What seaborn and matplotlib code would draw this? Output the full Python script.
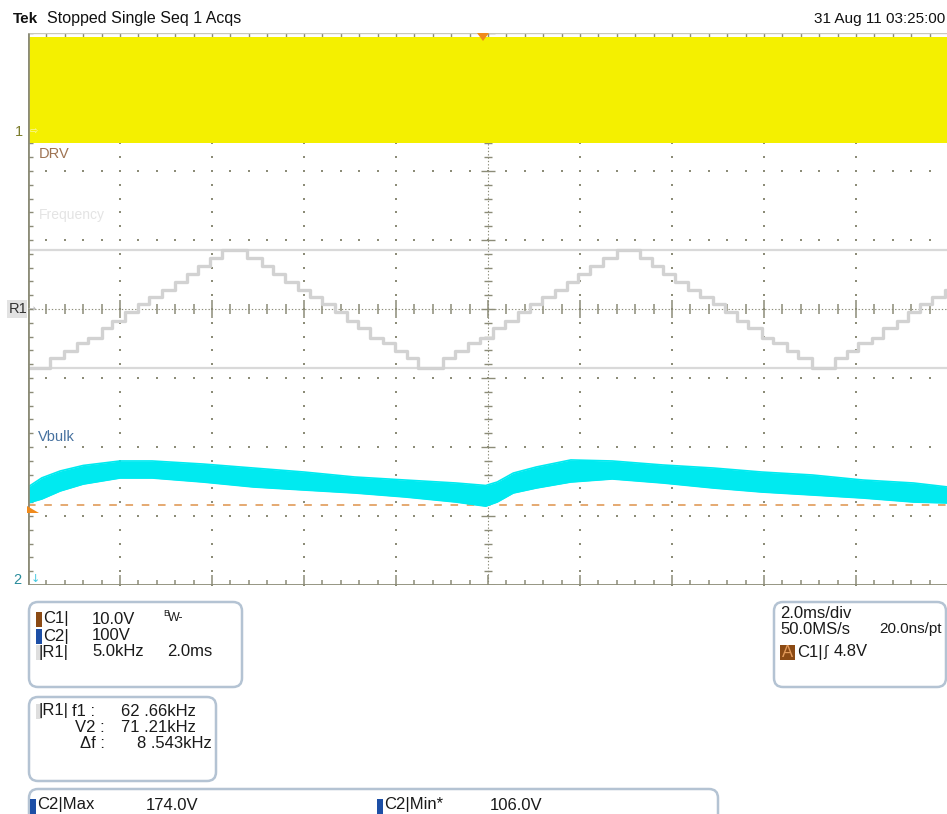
import numpy as np
import pandas as pd
import matplotlib
matplotlib.use("Agg")
import matplotlib.pyplot as plt
from matplotlib.patches import FancyBboxPatch, Polygon, Rectangle
import seaborn as sns

# ------------------------------------------------------------------ data
HEADER_BRAND = "Tek"
HEADER_STATUS = "Stopped Single Seq 1 Acqs"
HEADER_DATE = "31 Aug 11 03:25:00"

MS_PER_DIV = 2.0          # horizontal scale
CH1_V_PER_DIV = 10.0      # DRV
CH2_V_PER_DIV = 100.0     # Vbulk
R1_KHZ_PER_DIV = 5.0      # Frequency reference
R1_CENTER_KHZ = 66.9

# Channel 1 (DRV): high-frequency drive -> solid envelope
drv_time_ms = [-10.0, 10.0]
drv_high_v = [13.8, 13.8]
drv_low_v = [-1.6, -1.6]

# R1 (Frequency): staircase triangle, kHz
freq_time_ms = [-10.0, -9.52, -9.22, -8.93, -8.70, -8.39, -8.17, -7.89, -7.61, -7.37,
                -7.09, -6.80, -6.54, -6.30, -6.04, -5.78, -5.24, -4.91, -4.67, -4.41,
                -4.13, -3.87, -3.61, -3.33, -3.07, -2.83, -2.57, -2.28, -2.02, -1.76,
                -1.52, -0.98, -0.72, -0.43, -0.17, 0.11, 0.37, 0.65, 0.91, 1.17,
                1.46, 1.72, 1.96, 2.22, 2.50, 2.80, 3.30, 3.57, 3.80, 4.07,
                4.35, 4.61, 4.89, 5.15, 5.41, 5.65, 5.96, 6.20, 6.50, 6.74,
                7.04, 7.54, 7.80, 8.04, 8.35, 8.59, 8.89, 9.13, 9.39, 9.65,
                9.93, 10.0]
freq_khz = [62.66, 63.35, 63.86, 64.44, 64.83, 65.49, 66.03, 66.68, 67.23, 67.77,
            68.28, 68.86, 69.44, 70.02, 70.56, 71.21, 70.56, 70.02, 69.44, 68.86,
            68.28, 67.77, 67.23, 66.68, 66.03, 65.49, 64.83, 64.44, 63.86, 63.35,
            62.66, 63.35, 63.86, 64.44, 64.83, 65.49, 66.03, 66.68, 67.23, 67.77,
            68.28, 68.86, 69.44, 70.02, 70.56, 71.21, 70.56, 70.02, 69.44, 68.86,
            68.28, 67.77, 67.23, 66.68, 66.03, 65.49, 64.83, 64.44, 63.86, 63.35,
            62.66, 63.35, 63.86, 64.44, 64.83, 65.49, 66.03, 66.68, 67.23, 67.77,
            68.28, 68.28]
cursor_f1_khz = 62.66
cursor_v2_khz = 71.21

# Channel 2 (Vbulk): band envelope, volts
vbulk_time_ms = [-10.0, -9.7, -9.3, -8.8, -8.0, -7.3, -6.2, -5.1, -4.0, -2.9, -1.8, -0.7,
                 -0.05, 0.2, 0.55, 1.05, 1.8, 2.7, 3.8, 4.9, 5.95, 7.05, 8.15, 9.25, 10.0]
vbulk_upper_v = [134.8, 148.0, 158.0, 166.0, 172.5, 172.5, 168.1, 162.3, 156.5, 149.3, 144.9, 140.6,
                 137.0, 142.0, 155.0, 163.8, 174.0, 172.5, 166.7, 162.3, 156.5, 152.2, 144.9, 140.6, 134.8]
vbulk_lower_v = [111.6, 117.4, 129.0, 139.0, 147.8, 147.8, 142.0, 134.8, 130.4, 126.1, 120.3, 113.0,
                 107.0, 113.0, 126.1, 133.3, 142.0, 146.4, 140.6, 133.3, 127.5, 123.2, 118.8, 113.0, 111.6]
trigger_marker_v = 108.0   # dashed level shown on the Vbulk scale

# readouts
ch_rows = [("C1|", "10.0V"), ("C2|", "100V"), ("|R1|", "5.0kHz")]
cursor_names = ["f1 :", "V2 :", "\u0394f :"]
cursor_values = ["62 .66kHz", "71 .21kHz", "8 .543kHz"]
meas_names = ["C2|Max", "C2|Min*"]
meas_values = ["174.0V", "106.0V"]

# ------------------------------------------------------------------ layout
W, H = 947, 814
sns.set_style("white")
plt.rcParams["font.family"] = ["Liberation Sans", "DejaVu Sans"]

fig = plt.figure(figsize=(W / 100, H / 100), dpi=100)
PL, PR, PT, PB = 28, 948, 33, 585
ax = fig.add_axes([PL / W, 1 - PB / H, (PR - PL) / W, (PB - PT) / H])
ax.set_xlim(-5, 5)
ax.set_ylim(-4, 4)
ax.axis("off")

CH1_POS = (309 - 132) / 69.0
CH2_POS = (309 - 580) / 69.0

def tdiv(t):
    return np.asarray(t, float) / MS_PER_DIV

# ---------------- graticule
gc = "#8c8c78"
ys = np.round(np.arange(-4, 4.0001, 0.2), 6)
xs = np.round(np.arange(-5, 5.0001, 0.2), 6)
for k in [-4, -3, -2, -1, 1, 2, 3, 4]:
    ax.plot(np.full_like(ys, k), ys, ls="none", marker="s", ms=1.5, mew=0, color=gc, zorder=1)
for k in [-3, -2, -1, 1, 2, 3]:
    ax.plot(xs, np.full_like(xs, k), ls="none", marker="s", ms=1.5, mew=0, color=gc, zorder=1)
# center cross
ax.plot([-5, 5], [0, 0], color=gc, lw=0.8, ls=(0, (1.2, 1.8)), zorder=1)
ax.plot([0, 0], [-4, 4], color=gc, lw=0.8, ls=(0, (1.2, 1.8)), zorder=1)
minor_x = xs[np.abs(xs - np.round(xs)) > 1e-6]
major_x = xs[np.abs(xs - np.round(xs)) <= 1e-6]
minor_y = ys[np.abs(ys - np.round(ys)) > 1e-6]
major_y = ys[np.abs(ys - np.round(ys)) <= 1e-6]
ax.vlines(minor_x, -5 / 69, 5 / 69, color=gc, lw=1.1, zorder=1)
ax.vlines(major_x, -9 / 69, 9 / 69, color=gc, lw=1.1, zorder=1)
ax.hlines(minor_y, -4 / 92, 4 / 92, color=gc, lw=1.0, zorder=1)
ax.hlines(major_y, -7 / 92, 7 / 92, color=gc, lw=1.0, zorder=1)
# edge ticks
ax.vlines(minor_x, -4, -4 + 5 / 69, color=gc, lw=1.1, zorder=1)
ax.vlines(major_x, -4, -4 + 10 / 69, color=gc, lw=1.1, zorder=1)
ax.vlines(xs, 4 - 5 / 69, 4, color=gc, lw=1.0, zorder=1)
ax.hlines(ys, -5, -5 + 5 / 92, color=gc, lw=1.0, zorder=1)
ax.plot([-5, 5], [4, 4], color="#c8c8bc", lw=1.0, zorder=1)
ax.plot([-5, -5], [-4, 4], color=gc, lw=2.0, zorder=6, solid_capstyle="butt")
ax.plot([-5, 5], [-4, -4], color=gc, lw=2.0, zorder=6, solid_capstyle="butt")

# ---------------- channel 1 (DRV)
ax.fill_between(tdiv(drv_time_ms),
                np.asarray(drv_low_v) / CH1_V_PER_DIV + CH1_POS,
                np.asarray(drv_high_v) / CH1_V_PER_DIV + CH1_POS,
                color="#f4f000", lw=0, zorder=3)

# ---------------- R1 frequency
for c in (cursor_f1_khz, cursor_v2_khz):
    ax.axhline((c - R1_CENTER_KHZ) / R1_KHZ_PER_DIV, color="#d9d9d9", lw=1.6, zorder=2)
freq_df = pd.DataFrame({"x": tdiv(freq_time_ms),
                        "y": (np.asarray(freq_khz) - R1_CENTER_KHZ) / R1_KHZ_PER_DIV})
sns.lineplot(data=freq_df, x="x", y="y", ax=ax, drawstyle="steps-post",
             color="#d2d2d2", linewidth=2.4, zorder=4, legend=False)
ax.set_xlim(-5, 5)
ax.set_ylim(-4, 4)
ax.axis("off")

# ---------------- channel 2 (Vbulk)
ax.plot([-5, 5], [trigger_marker_v / CH2_V_PER_DIV + CH2_POS] * 2, color="#e3a366",
        lw=1.3, ls=(0, (4.2, 4.8)), zorder=3)
vb_df = pd.DataFrame({"x": tdiv(vbulk_time_ms),
                      "lo": np.asarray(vbulk_lower_v) / CH2_V_PER_DIV + CH2_POS,
                      "hi": np.asarray(vbulk_upper_v) / CH2_V_PER_DIV + CH2_POS})
ax.fill_between(vb_df["x"], vb_df["lo"], vb_df["hi"], color="#00eaf0", lw=0, zorder=5)
sns.lineplot(data=vb_df, x="x", y="hi", ax=ax, color="#00eaf0", linewidth=1.2, zorder=5, legend=False)
sns.lineplot(data=vb_df, x="x", y="lo", ax=ax, color="#00eaf0", linewidth=1.2, zorder=5, legend=False)
ax.set_xlim(-5, 5)
ax.set_ylim(-4, 4)
ax.axis("off")

# ------------------------------------------------------------------ overlay (pixel coords)
ov = fig.add_axes([0, 0, 1, 1], zorder=10)
ov.set_xlim(0, W)
ov.set_ylim(H, 0)
ov.axis("off")

FS = 12

def txt(x, y, s, size=FS, color="#1a1a1a", **kw):
    kw.setdefault("va", "center")
    kw.setdefault("ha", "left")
    ov.text(x, y, s, fontsize=size, color=color, **kw)

# header
txt(13, 19, HEADER_BRAND, size=11, weight="bold", color="#111111")
txt(47, 19, HEADER_STATUS, size=11.5, color="#111111")
txt(945, 19, HEADER_DATE, size=11, color="#111111", ha="right")

# trigger markers
ov.add_patch(Polygon([[477, 33], [489, 33], [483, 41]], closed=True, color="#f08a1c", lw=0))
ov.add_patch(Polygon([[27, 506], [27, 513], [39, 513]], closed=True, color="#f08a1c", lw=0))

# channel markers
txt(15, 132, "1", size=10.5, color="#7c7c2c")
txt(30, 132, "\u21e8", size=7, color="#fbf8b0", family=["DejaVu Sans"])
ov.add_patch(Rectangle((7, 300), 20, 18, color="#e2e2e2", lw=0))
txt(9, 309, "R1", size=10.5, color="#333333")
txt(28, 309, "\u2192", size=7, color="#b8b8b8", family=["DejaVu Sans"])
txt(13, 580, "2", size=10.5, color="#2a8c9c")
txt(31, 579, "\u2193", size=8, color="#40c8e0", family=["DejaVu Sans"])

# trace labels
txt(39, 154, "DRV", size=10.5, color="#9e7352")
txt(39, 215, "Frequency", size=10, color="#e4e4e4")
txt(38, 437, "Vbulk", size=10.5, color="#46719f")

# readout boxes
box_ec = "#b4c3d3"
def rbox(x0, y0, x1, y1):
    ov.add_patch(FancyBboxPatch((x0, y0), x1 - x0, y1 - y0,
                                boxstyle="round,pad=0,rounding_size=9",
                                fc="white", ec=box_ec, lw=1.8))

rbox(29, 602, 242, 687)
rbox(29, 697, 216, 781)
rbox(29, 789, 718, 830)
rbox(774, 602, 946, 687)

# box 1
sw_colors = ["#8b4a14", "#1d4fa6", "#dedede"]
row_y = [619, 636, 652]
for (name, val), c, yy in zip(ch_rows, sw_colors, row_y):
    ov.add_patch(Rectangle((36, yy - 7.5), 6, 15, color=c, lw=0))
    txt(43 if not name.startswith("|") else 39, yy, name)
    txt(92, yy, val)
txt(163, 614, "B", size=6.5)
txt(168, 618, "W-", size=9)
txt(167, 652, "2.0ms")

# box 2
ov.add_patch(Rectangle((36, 704), 6, 15, color="#dedede", lw=0))
txt(39, 711, "|R1|")
name_x = [72, 75, 80]
val_x = [121, 121, 137]
for nm, vl, nx, vx, yy in zip(cursor_names, cursor_values, name_x, val_x, [711, 727, 744]):
    txt(nx, yy, nm)
    txt(vx, yy, vl)

# box 3
for nm, vl, nx, vx in zip(meas_names, meas_values, [30, 377], [146, 490]):
    ov.add_patch(Rectangle((nx, 799), 6, 15, color="#1d4fa6", lw=0))
    txt(nx + 7, 805, nm)
    txt(vx, 805, vl)

# box 4
txt(780, 613, "2.0ms/div")
txt(780, 629, "50.0MS/s")
txt(942, 629, "20.0ns/pt", size=11, ha="right")
ov.add_patch(Rectangle((780, 645), 15, 15, color="#8b4a14", lw=0))
txt(781.5, 652.5, "A", color="#e39a5a")
txt(797, 652, "C1|")
txt(823, 652, "\u0283", size=10, family=["DejaVu Sans"])
txt(834, 651, "4.8V")

fig.savefig("out.png", dpi=100, facecolor="white")
